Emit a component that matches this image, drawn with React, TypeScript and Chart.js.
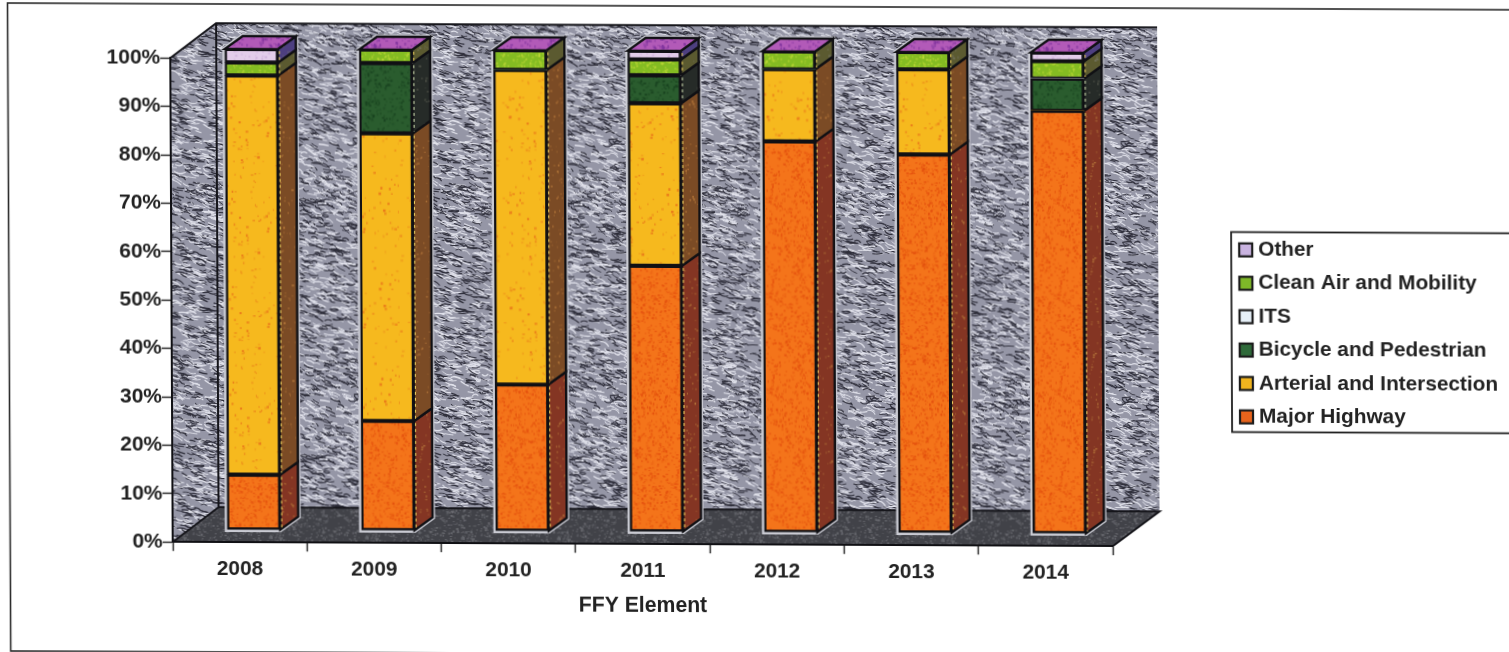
import React, { useEffect, useRef } from "react";
import { Chart, registerables } from "chart.js";

Chart.register(...registerables);

const years = ["2008", "2009", "2010", "2011", "2012", "2013", "2014"];
const majorHighway = [11.5, 22.8, 30.5, 55.3, 81.3, 78.7, 87.9];
const arterial = [83.0, 59.8, 65.4, 33.8, 15.0, 17.7, 0];
const bicycle = [0, 14.6, 0, 5.8, 0, 0, 6.7];
const its = [0, 0, 0, 0, 0, 0, 0];
const cleanAir = [2.7, 2.8, 4.1, 3.3, 3.7, 3.6, 3.6];
const other = [2.8, 0, 0, 1.8, 0, 0, 1.8];

const sideColors = ["#843523", "#7b4b25", "#262b28", "#9a9aa2", "#5b5a30", "#4d3f80"];
const capColor = "#b25ab8";
const legendSwatches = ["#e8641c", "#f2b51e", "#2f6a3a", "#e6f0f8", "#7fb828", "#c9b3e0"];

const FONT = '"Liberation Sans", Arial, sans-serif';
const WALL_DX = 46;
const WALL_DY = 35;
const PLANE_DX = 14;
const PLANE_DY = -12.3;
const BAR_DX = 18;
const BAR_DY = 13;
const BAR_FIT = 481 / 484;

// Small repeatable generator, so textures come out the same on every draw.
function sequence(seed: number) {
  let s = seed;
  return () => {
    s = (s * 1664525 + 1013904223) % 4294967296;
    return s / 4294967296;
  };
}

function speckled(base: string, speck: string, count: number, size: number, seed: number) {
  const tile = document.createElement("canvas");
  tile.width = tile.height = 96;
  const c = tile.getContext("2d")!;
  c.fillStyle = base;
  c.fillRect(0, 0, 96, 96);
  const r = sequence(seed);
  c.fillStyle = speck;
  for (let i = 0; i < count; i++) {
    c.globalAlpha = 0.25 + r() * 0.6;
    c.fillRect(r() * 96, r() * 96, size * (0.6 + r()), size * (0.6 + r()));
  }
  return c.createPattern(tile, "repeat")!;
}

function marbled(base: string, light: string, dark: string, count: number, seed: number) {
  const W = 256;
  const tile = document.createElement("canvas");
  tile.width = tile.height = W;
  const c = tile.getContext("2d")!;
  c.fillStyle = base;
  c.fillRect(0, 0, W, W);
  const r = sequence(seed);
  c.lineCap = "round";
  for (let i = 0; i < count; i++) {
    const x = r() * W;
    const y = r() * W;
    const a = -0.1 + r() * 0.7;
    const len = 2.5 + r() * 2.5;
    const bend = (r() - 0.5) * 6;
    c.strokeStyle = i % 2 ? light : dark;
    c.lineWidth = 0.8 + r() * 0.5;
    for (const [ox, oy] of [[0, 0], [-W, 0], [0, -W], [-W, -W]]) {
      c.beginPath();
      c.moveTo(x + ox, y + oy);
      c.quadraticCurveTo(
        x + ox + Math.cos(a) * len - Math.sin(a) * bend,
        y + oy + Math.sin(a) * len + Math.cos(a) * bend,
        x + ox + Math.cos(a) * len * 2,
        y + oy + Math.sin(a) * len * 2
      );
      c.stroke();
    }
  }
  return c.createPattern(tile, "repeat")!;
}

function poly(ctx: CanvasRenderingContext2D, pts: number[][]) {
  ctx.beginPath();
  pts.forEach(([x, y], i) => (i ? ctx.lineTo(x, y) : ctx.moveTo(x, y)));
  ctx.closePath();
}

function toBarPlane(ctx: CanvasRenderingContext2D, baseline: number) {
  ctx.translate(PLANE_DX, baseline + PLANE_DY);
  ctx.scale(1, BAR_FIT);
  ctx.translate(0, -baseline);
}

export default function App() {
  const ref = useRef<HTMLCanvasElement>(null);

  useEffect(() => {
    const wallFill = marbled("#9596a6", "#e2e3ec", "#2e2e3a", 3600, 11);
    const floorFill = speckled("#414248", "#6d6e74", 900, 1.6, 23);
    const sideFills = sideColors.map((col, i) => speckled(col, i < 2 ? "#b87a3c" : "#777766", 180, 1.5, 31 + i));
    const capFill = speckled(capColor, "#7a2f9a", 420, 2, 41);

    const scene = {
      id: "scene",
      beforeDraw(chart: any) {
        const { ctx, chartArea: a } = chart;
        ctx.save();
        ctx.fillStyle = "#ffffff";
        ctx.fillRect(0, 0, chart.width, chart.height);

        // Outer page frame; its right and bottom run off the sheet
        ctx.strokeStyle = "#2a2a2a";
        ctx.lineWidth = 1.6;
        ctx.strokeRect(7.5, 3, 1600, 648);

        const bl = [a.left, a.bottom];
        const tl = [a.left, a.top];
        const br = [a.right, a.bottom];
        const backTL = [a.left + WALL_DX, a.top - WALL_DY];
        const backTR = [a.right + WALL_DX + 1, a.top - WALL_DY];
        const backBL = [a.left + WALL_DX, a.bottom - WALL_DY];
        const backBR = [a.right + WALL_DX + 1, a.bottom - WALL_DY];

        ctx.fillStyle = wallFill;
        poly(ctx, [backTL, backTR, backBR, backBL]);
        ctx.fill();
        poly(ctx, [bl, tl, backTL, backBL]);
        ctx.fill();
        ctx.fillStyle = floorFill;
        poly(ctx, [bl, backBL, backBR, br]);
        ctx.fill();

        ctx.strokeStyle = "#15151a";
        ctx.lineWidth = 2;
        ctx.beginPath();
        ctx.moveTo(tl[0], tl[1]);
        ctx.lineTo(backTL[0], backTL[1]);
        ctx.lineTo(backTR[0], backTR[1]);
        ctx.moveTo(backTL[0], backTL[1]);
        ctx.lineTo(backBL[0], backBL[1]);
        ctx.lineTo(backBR[0], backBR[1]);
        ctx.lineTo(br[0], br[1]);
        ctx.moveTo(bl[0], bl[1]);
        ctx.lineTo(backBL[0], backBL[1]);
        ctx.stroke();
        ctx.restore();
      },
      beforeDatasetsDraw(chart: any) {
        const { ctx, chartArea: a } = chart;
        ctx.save();
        toBarPlane(ctx, a.bottom);
        const metas = chart.data.datasets.map((_: any, d: number) => chart.getDatasetMeta(d));
        years.forEach((_, i) => {
          const first = metas[0].data[i];
          const last = metas[metas.length - 1].data[i];
          const half = first.width / 2;
          const l = first.x - half;
          const r = first.x + half;
          const top = last.y;
          const bottom = first.base;

          // pale rim the bars leave on the textured wall
          ctx.strokeStyle = "#c9cad2";
          ctx.lineWidth = 5;
          ctx.lineJoin = "miter";
          poly(ctx, [[l, bottom], [l, top], [l + BAR_DX, top - BAR_DY], [r + BAR_DX, top - BAR_DY], [r + BAR_DX, bottom - BAR_DY], [r, bottom]]);
          ctx.stroke();

          ctx.strokeStyle = "#101014";
          ctx.lineWidth = 2.4;
          metas.forEach((m: any, d: number) => {
            const el = m.data[i];
            if (el.base - el.y < 0.5) return;
            ctx.fillStyle = sideFills[d];
            poly(ctx, [[r, el.y], [r + BAR_DX, el.y - BAR_DY], [r + BAR_DX, el.base - BAR_DY], [r, el.base]]);
            ctx.fill();
            ctx.stroke();
          });
          ctx.fillStyle = capFill;
          poly(ctx, [[l, top], [l + BAR_DX, top - BAR_DY], [r + BAR_DX, top - BAR_DY], [r, top]]);
          ctx.fill();
          ctx.stroke();
        });
        ctx.restore();

        // The stacks stand part-way into the floor, behind the axis plane
        ctx.save();
        toBarPlane(ctx, a.bottom);
      },
      afterDatasetsDraw(chart: any) {
        const { ctx } = chart;
        // Dashed pale seam along each segment's shared edge with its side face
        ctx.lineWidth = 1;
        ctx.setLineDash([3, 3]);
        chart.data.datasets.forEach((_: any, d: number) => {
          chart.getDatasetMeta(d).data.forEach((el: any) => {
            if (el.base - el.y < 0.5) return;
            ctx.strokeStyle = d === 2 ? "#d8e8b8" : "#f6d860";
            ctx.beginPath();
            ctx.moveTo(el.x + el.width / 2 + 1.5, el.y + 2);
            ctx.lineTo(el.x + el.width / 2 + 1.5, el.base - 2);
            ctx.stroke();
          });
        });
        ctx.setLineDash([]);
        ctx.restore();
      },
      afterDraw(chart: any) {
        const { ctx } = chart;
        const items = chart.data.datasets.slice().reverse();
        const colors = legendSwatches.slice().reverse();
        ctx.save();
        ctx.fillStyle = "#ffffff";
        ctx.strokeStyle = "#222222";
        ctx.lineWidth = 1.8;
        ctx.fillRect(1230, 226.5, 300, 200);
        ctx.strokeRect(1230, 226.5, 300, 200);
        ctx.font = `bold 20.8px ${FONT}`;
        ctx.textBaseline = "middle";
        ctx.textAlign = "left";
        items.forEach((ds: any, i: number) => {
          const y = 244.3 + i * 33.4;
          ctx.fillStyle = colors[i];
          ctx.fillRect(1238, y - 6.5, 13, 13);
          ctx.strokeStyle = "#1c1c1c";
          ctx.lineWidth = 2.2;
          ctx.strokeRect(1238, y - 6.5, 13, 13);
          ctx.fillStyle = "#222222";
          ctx.fillText(ds.label, 1257, y);
        });
        ctx.restore();
      },
    };

    const segment = (label: string, data: number[], fill: CanvasPattern | string) => ({
      label,
      data,
      backgroundColor: fill,
      borderColor: "#101014",
      borderWidth: (c: any) => (c.raw > 0 ? 2.4 : 0),
      borderSkipped: false,
      categoryPercentage: 1,
      barThickness: 53,
    });

    const chart = new Chart(ref.current!, {
      type: "bar",
      data: {
        labels: years,
        datasets: [
          segment("Major Highway", majorHighway, speckled("#f4741a", "#e4500e", 800, 1.6, 3)),
          segment("Arterial and Intersection", arterial, speckled("#f6b91e", "#e8701a", 110, 1.7, 5)),
          segment("Bicycle and Pedestrian", bicycle, speckled("#2a5c2e", "#173f1e", 700, 1.6, 7)),
          segment("ITS", its, "#eef3fa"),
          segment("Clean Air and Mobility", cleanAir, speckled("#84bc22", "#c4dc3a", 700, 1.6, 9)),
          segment("Other", other, speckled("#e3cdea", "#c9a8d8", 300, 1.6, 13)),
        ],
      },
      options: {
        responsive: false,
        animation: false,
        devicePixelRatio: 1,
        layout: { padding: { top: 57.2, right: 399, left: 0, bottom: 0 } },
        plugins: { legend: { display: false }, tooltip: { enabled: false } },
        scales: {
          x: {
            stacked: true,
            afterFit: (s: any) => {
              s.height = 652 - 541.2;
            },
            border: { color: "#101014", width: 2 },
            grid: { drawOnChartArea: false, drawTicks: true, tickLength: 9, tickColor: "#2a2a2a", tickWidth: 1.5 },
            ticks: {
              color: "#222222",
              padding: 6,
              font: { family: FONT, weight: "bold", size: 20.8 },
              maxRotation: 0,
            },
            title: {
              display: true,
              text: "FFY Element",
              color: "#222222",
              font: { family: FONT, weight: "bold", size: 21.2 },
              padding: { top: 0, bottom: 36 },
            },
          },
          y: {
            stacked: true,
            min: 0,
            max: 100,
            afterFit: (s: any) => {
              s.width = 170;
            },
            border: { color: "#101014", width: 2 },
            grid: { drawOnChartArea: false, drawTicks: true, tickLength: 10, tickColor: "#2a2a2a", tickWidth: 1.5 },
            ticks: {
              stepSize: 10,
              color: "#222222",
              padding: 0,
              font: { family: FONT, weight: "bold", size: 21 },
              callback: (v: any) => `${v}%`,
            },
          },
        },
      },
      plugins: [scene],
    } as any);
    return () => chart.destroy();
  }, []);

  return (
    <div style={{ position: "fixed", inset: 0, overflow: "hidden", background: "#fff" }}>
      <canvas
        ref={ref}
        width={1509}
        height={652}
        style={{
          position: "absolute",
          left: 0,
          top: 0,
          transformOrigin: "0 0",
          transform: "matrix(1, 0.0045, 0.005, 1, 0, 0)",
        }}
      />
    </div>
  );
}
